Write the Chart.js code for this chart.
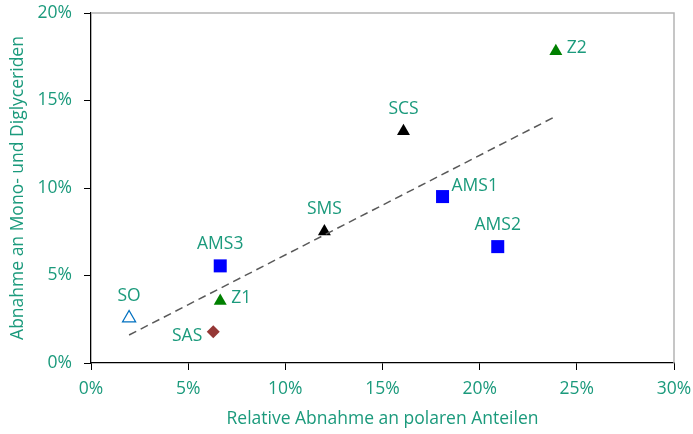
<!DOCTYPE html>
<html>
<head>
<meta charset="utf-8">
<script src="https://cdn.jsdelivr.net/npm/chart.js@4"></script>
<style>
  html, body { margin: 0; padding: 0; background: #fff; }
  #wrap { width: 693px; height: 434px; }
</style>
</head>
<body>
<div id="wrap"><canvas id="chart" width="693" height="434"></canvas></div>
<script>
// sample names and values (percent)
const names = ['SO', 'SAS', 'Z1', 'AMS3', 'SMS', 'SCS', 'AMS1', 'AMS2', 'Z2'];
const xValues = [1.96, 6.29, 6.65, 6.65, 12.01, 16.08, 18.09, 20.93, 23.92];
const yValues = [2.57, 1.79, 3.55, 5.55, 7.52, 13.25, 9.51, 6.65, 17.81];
const groups = ['open', 'diamond', 'green', 'blue', 'black', 'black', 'blue', 'blue', 'green'];

// linear trend line end points
const trendX = [1.96, 23.87];
const trendY = [1.60, 14.07];

const xTicks = [0, 5, 10, 15, 20, 25, 30];
const yTicks = [0, 5, 10, 15, 20];

const TEXT = '#1b9a7c';
const FONT = 'Open Sans';
const FSIZE = 17.5;

const styles = {
  open:    { pointStyle: 'triangle', radius: 7.5, bg: '#ffffff', border: '#0070c0', bw: 1.3 },
  diamond: { pointStyle: 'rectRot',  radius: 6.5, bg: '#953735', border: '#953735', bw: 0 },
  green:   { pointStyle: 'triangle', radius: 7.5, bg: '#008000', border: '#008000', bw: 0 },
  blue:    { pointStyle: 'rect',     radius: 9.2, bg: '#0000ff', border: '#0000ff', bw: 0 },
  black:   { pointStyle: 'triangle', radius: 7.5, bg: '#000000', border: '#000000', bw: 0 }
};

// where each label sits relative to its marker
const labelPos = { SO: 'above', SAS: 'left', Z1: 'right', AMS3: 'above', SMS: 'above',
                   SCS: 'above', AMS1: 'aboveRight', AMS2: 'above', Z2: 'right' };

const datasets = names.map((n, i) => {
  const s = styles[groups[i]];
  return {
    label: n,
    data: [{ x: xValues[i], y: yValues[i] }],
    pointStyle: s.pointStyle,
    pointRadius: s.radius,
    pointBackgroundColor: s.bg,
    pointBorderColor: s.border,
    pointBorderWidth: s.bw,
    showLine: false
  };
});

datasets.unshift({
  label: 'trend',
  data: trendX.map((x, i) => ({ x: x, y: trendY[i] })),
  showLine: true,
  borderColor: '#595959',
  borderWidth: 1.5,
  borderDash: [8, 5],
  pointRadius: 0
});

const labelPlugin = {
  id: 'pointLabels',
  afterDatasetsDraw(chart) {
    const ctx = chart.ctx;
    ctx.save();
    ctx.font = FSIZE + 'px "' + FONT + '"';
    ctx.fillStyle = TEXT;
    ctx.textBaseline = 'middle';
    chart.data.datasets.forEach((ds, di) => {
      if (ds.label === 'trend') return;
      const el = chart.getDatasetMeta(di).data[0];
      const pos = labelPos[ds.label];
      let x = el.x, y = el.y;
      if (pos === 'above') { ctx.textAlign = 'center'; y -= 22; }
      else if (pos === 'left') { ctx.textAlign = 'right'; x -= 11; y += 4; }
      else if (pos === 'right') { ctx.textAlign = 'left'; x += 11; y -= 3; }
      else if (pos === 'aboveRight') { ctx.textAlign = 'left'; x += 9; y -= 11; }
      ctx.fillText(ds.label, x, y);
    });
    ctx.restore();
  }
};

const framePlugin = {
  id: 'frame',
  beforeDatasetsDraw(chart) {
    const a = chart.chartArea;
    const ctx = chart.ctx;
    ctx.save();
    ctx.strokeStyle = '#b4b4b4';
    ctx.lineWidth = 1.5;
    ctx.beginPath();
    ctx.moveTo(a.left, a.top);
    ctx.lineTo(a.right, a.top);
    ctx.lineTo(a.right, a.bottom);
    ctx.stroke();
    ctx.restore();
  }
};

new Chart(document.getElementById('chart'), {
  type: 'scatter',
  data: { datasets: datasets },
  plugins: [framePlugin, labelPlugin],
  options: {
    responsive: false,
    animation: false,
    layout: { padding: { top: 13, right: 19, left: 0, bottom: 0 } },
    plugins: { legend: { display: false }, tooltip: { enabled: false } },
    scales: {
      x: {
        min: 0, max: 30,
        afterBuildTicks(axis) { axis.ticks = xTicks.map(v => ({ value: v })); },
        afterFit(axis) { axis.height = 71; axis.paddingLeft = 0; axis.paddingRight = 0; },
        grid: { drawOnChartArea: false, drawTicks: true, tickLength: 7, color: '#000' },
        border: { color: '#000', width: 1.3 },
        ticks: { color: TEXT, font: { family: FONT, size: FSIZE }, padding: 9,
                 maxRotation: 0, callback: v => v + '%' },
        title: { display: true, text: 'Relative Abnahme an polaren Anteilen', color: TEXT,
                 font: { family: FONT, size: FSIZE }, padding: { top: 0 } }
      },
      y: {
        min: 0, max: 20,
        afterBuildTicks(axis) { axis.ticks = yTicks.map(v => ({ value: v })); },
        afterFit(axis) { axis.width = 91; axis.paddingTop = 0; axis.paddingBottom = 0; },
        grid: { drawOnChartArea: false, drawTicks: true, tickLength: 7, color: '#000' },
        border: { color: '#000', width: 1.3 },
        ticks: { color: TEXT, font: { family: FONT, size: FSIZE }, padding: 12,
                 callback: v => v + '%' },
        title: { display: true, text: 'Abnahme an Mono- und Diglyceriden', color: TEXT,
                 font: { family: FONT, size: FSIZE }, padding: { top: 8, bottom: 0 } }
      }
    }
  }
});
</script>
</body>
</html>
